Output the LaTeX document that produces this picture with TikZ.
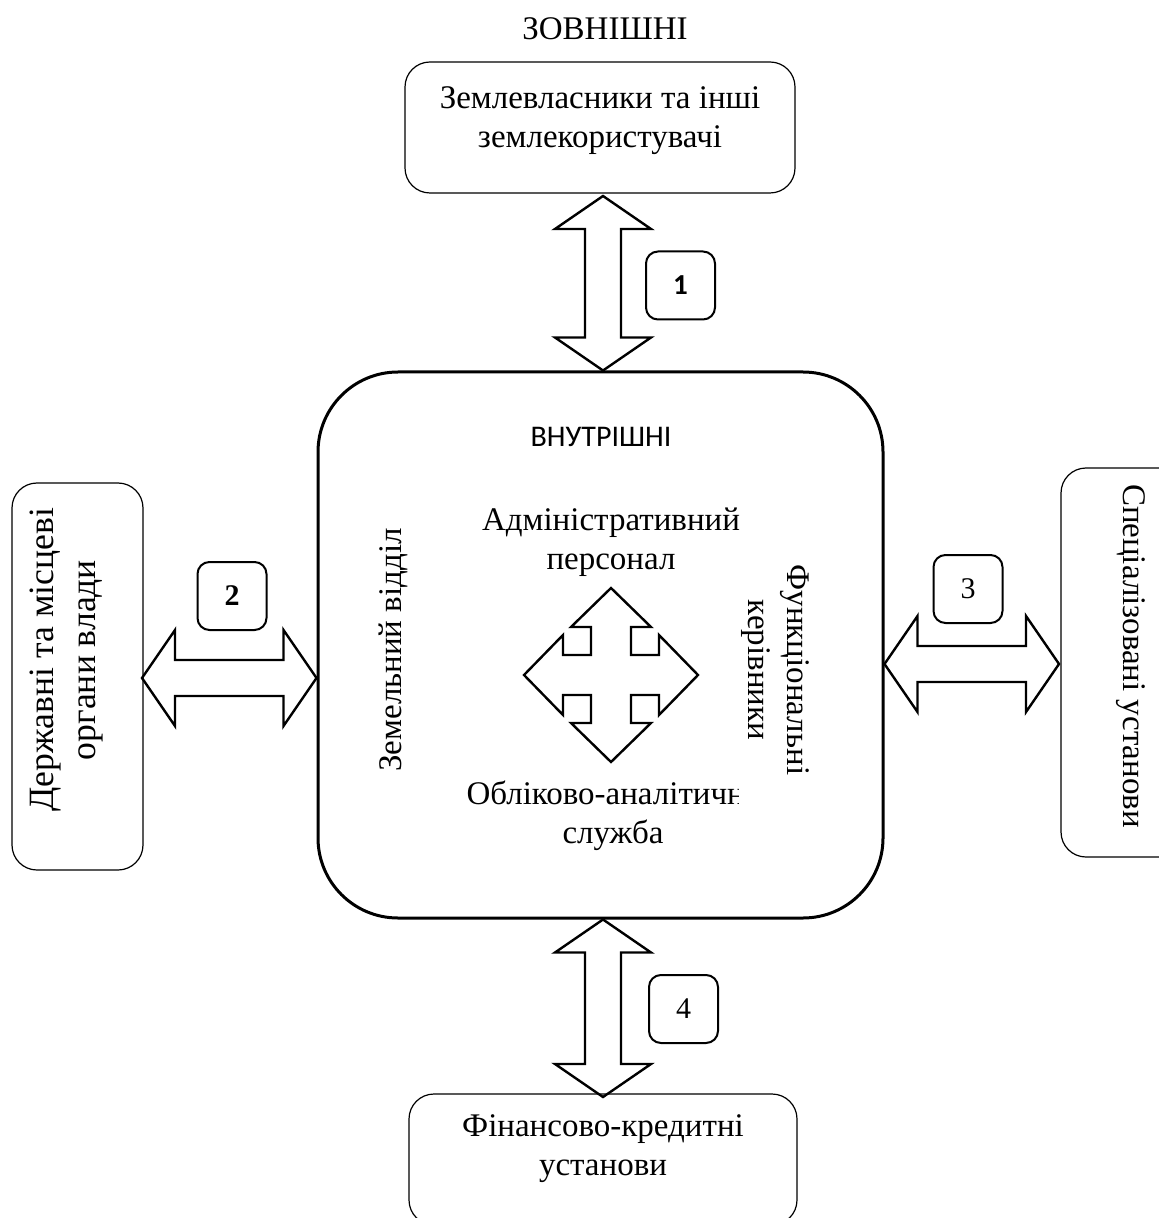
\documentclass[tikz,border=0pt]{standalone}
\usepackage{fontspec}
\setmainfont{Liberation Serif}
\newfontfamily\calib{Carlito}
\usetikzlibrary{calc}

% vertical double block arrow between two tips (top, bottom)
\newcommand{\blkv}[2]{%
  \draw[blockarrow] let \p1=(#1), \p2=(#2) in
    (\p1) -- (\x1+24pt,\y1-16.5pt) -- (\x1+9pt,\y1-16.5pt) -- (\x1+9pt,\y2+16.5pt)
    -- (\x1+24pt,\y2+16.5pt) -- (\p2) -- (\x1-24pt,\y2+16.5pt) -- (\x1-9pt,\y2+16.5pt)
    -- (\x1-9pt,\y1-16.5pt) -- (\x1-24pt,\y1-16.5pt) -- cycle;}
% horizontal double block arrow between two tips (left, right)
\newcommand{\blkh}[2]{%
  \draw[blockarrow] let \p1=(#1), \p2=(#2) in
    (\p1) -- (\x1+16.5pt,\y1+24pt) -- (\x1+16.5pt,\y1+9pt) -- (\x2-16.5pt,\y1+9pt)
    -- (\x2-16.5pt,\y1+24pt) -- (\p2) -- (\x2-16.5pt,\y1-24pt) -- (\x2-16.5pt,\y1-9pt)
    -- (\x1+16.5pt,\y1-9pt) -- (\x1+16.5pt,\y1-24pt) -- cycle;}

\begin{document}
\begin{tikzpicture}[x=0.5pt,y=-0.5pt,
  txt/.style={font=\fontsize{16.5}{19.5}\selectfont, align=center, inner sep=0pt},
  bigtxt/.style={font=\fontsize{17.8}{21}\selectfont, align=center, inner sep=0pt},
  extbox/.style={draw, line width=0.6pt, rounded corners=12.5pt, inner sep=0pt},
  numbox/.style={draw, line width=1pt, rounded corners=6pt, minimum width=34.5pt,
    minimum height=34pt, inner sep=0pt},
  blockarrow/.style={draw, line width=1.2pt, line join=miter},
]
\useasboundingbox (0,0) rectangle (1158,1218);

% outer partners
\node[extbox, minimum width=195pt, minimum height=65.5pt] (ext1) at (600,127.5) {};
\node[extbox, minimum width=65.5pt, minimum height=193.5pt] (ext2) at (77.5,676.5) {};
\node[extbox, minimum width=65.5pt, minimum height=194.5pt] (ext3) at (1126.5,662.5) {};
\node[extbox, minimum width=194pt, minimum height=65.5pt] (ext4) at (603,1159.5) {};

\node[txt] (tout) at (605,29) {ЗОВНІШНІ};
\node[txt] (t1) at (600,121) {Землевласники та інші\\землекористувачі};
\node[bigtxt, rotate=90] (t2) at (67,660) {Державні та місцеві\\органи влади};
\node[txt, rotate=-90] (t3) at (1131,656) {Спеціалізовані установи};
\node[txt] (t4) at (603,1149) {Фінансово-кредитні\\установи};

% inner organisation
\node[draw, line width=1.5pt, rounded corners=40pt, minimum width=282.5pt,
  minimum height=273pt] (core) at (600.5,645) {};
\node[inner sep=0pt, font=\calib\fontsize{15}{18}\selectfont] (tin) at (601,437) {ВНУТРІШНІ};
\node[txt] (adm) at (611,542) {Адміністративний\\персонал};
\node[txt, rotate=90] (land) at (393,650) {Земельний відділ};
\node[txt, rotate=-90] (func) at (775,670) {Функціональні\\керівники};
\begin{scope}
  \clip (440,770) rectangle (738,860);
  \node[txt] (acc) at (613,816) {Обліково-аналітична\\служба};
\end{scope}

% four-way arrow in the middle
\coordinate (cross) at (611,675);
\draw[blockarrow, shift={(cross)}]
  (0,-87) -- (40,-48) -- (20,-48) -- (20,-20) -- (48,-20) -- (48,-40) -- (87,0)
  -- (48,40) -- (48,20) -- (20,20) -- (20,48) -- (40,48) -- (0,87) -- (-40,48)
  -- (-20,48) -- (-20,20) -- (-48,20) -- (-48,40) -- (-87,0) -- (-48,-40)
  -- (-48,-20) -- (-20,-20) -- (-20,-48) -- (-40,-48) -- cycle;

% links between the inner and outer parts
\coordinate (a1t) at (603,196);  \coordinate (a1b) at (603,0 |- core.north);
\coordinate (a2l) at (142,678);  \coordinate (a2r) at (core.west |- 0,678);
\coordinate (a3l) at (core.east |- 0,664); \coordinate (a3r) at (1059,664);
\coordinate (a4t) at (603,0 |- core.south); \coordinate (a4b) at (603,1097);
\blkv{a1t}{a1b}
\blkh{a2l}{a2r}
\blkh{a3l}{a3r}
\blkv{a4t}{a4b}

% link numbers
\node[numbox, font=\calib\bfseries\fontsize{14.5}{16}\selectfont] (n1) at (680.5,285.5) {1};
\node[numbox, font=\bfseries\fontsize{15}{18}\selectfont] (n2) at (232,596) {2};
\node[numbox, font=\fontsize{15}{18}\selectfont] (n3) at (968,589) {3};
\node[numbox, font=\fontsize{15}{18}\selectfont] (n4) at (683.5,1009) {4};
\end{tikzpicture}
\end{document}
